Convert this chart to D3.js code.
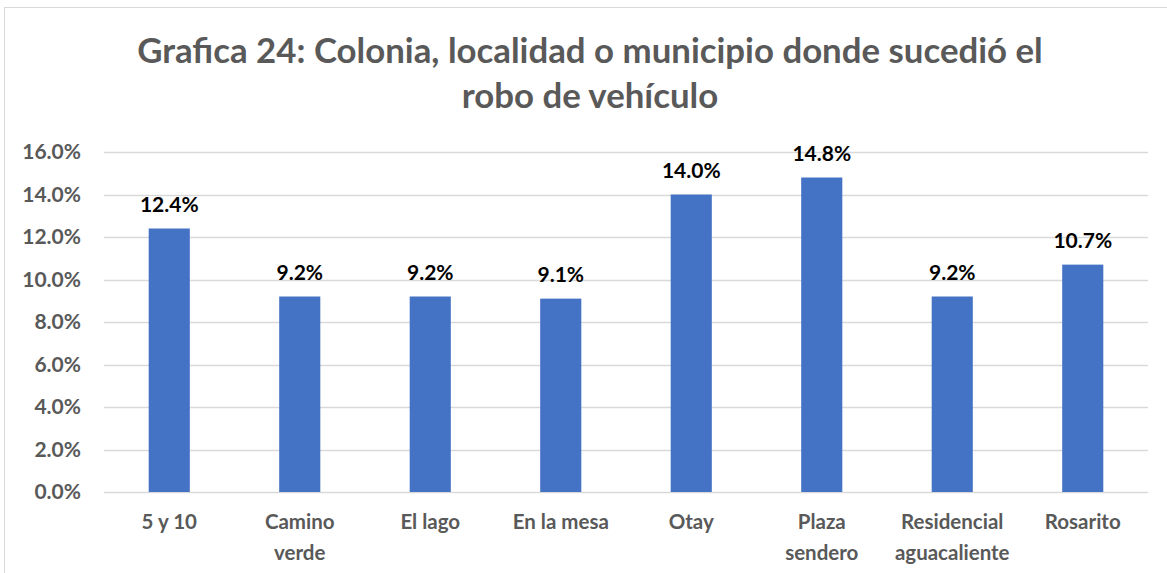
<!DOCTYPE html>
<html>
<head>
<meta charset="utf-8">
<script src="https://cdn.jsdelivr.net/npm/d3@7"></script>
<style>
  body { margin: 0; background: #fff; }
  text { font-family: Lato, "Open Sans", sans-serif; font-weight: bold; }
</style>
</head>
<body>
<div id="viz"></div>
<script>
// data
const categories = ['5 y 10', 'Camino verde', 'El lago', 'En la mesa', 'Otay', 'Plaza sendero', 'Residencial aguacaliente', 'Rosarito'];
const catLines = [['5 y 10'], ['Camino', 'verde'], ['El lago'], ['En la mesa'], ['Otay'], ['Plaza', 'sendero'], ['Residencial', 'aguacaliente'], ['Rosarito']];
const values = [12.4, 9.2, 9.2, 9.1, 14.0, 14.8, 9.2, 10.7];
const yTicks = [0, 2, 4, 6, 8, 10, 12, 14, 16];
const titleLines = ['Grafica 24: Colonia, localidad o municipio donde sucedió el', 'robo de vehículo'];

const W = 1167, H = 573;
const plot = { left: 104, right: 1148, top: 152, bottom: 492 };
const grey = '#595959';

let svg = d3.select('#viz').append('svg')
  .attr('width', W)
  .attr('height', H);

// frame
svg.append('rect')
  .attr('x', 4.5).attr('y', 7.5)
  .attr('width', W + 10).attr('height', H + 10)
  .attr('fill', 'none')
  .attr('stroke', '#d9d9d9');

let x = d3.scaleBand().domain(categories).range([plot.left, plot.right]).paddingInner(0.685).paddingOuter(0.3425);
let y = d3.scaleLinear().domain([0, 16]).range([plot.bottom, plot.top]);

// title
svg.append('g').selectAll('text')
  .data(titleLines)
  .enter().append('text')
  .attr('x', 590)
  .attr('y', (d, i) => 63 + i * 45)
  .attr('text-anchor', 'middle')
  .attr('font-size', 34.8)
  .attr('fill', grey)
  .text(d => d);

// gridlines
svg.append('g').selectAll('line')
  .data(yTicks)
  .enter().append('line')
  .attr('x1', plot.left).attr('x2', plot.right)
  .attr('y1', d => Math.round(y(d)) + 0.5)
  .attr('y2', d => Math.round(y(d)) + 0.5)
  .attr('stroke', '#d9d9d9')
  .attr('stroke-width', 1.5);

// y labels
svg.append('g').selectAll('text')
  .data(yTicks)
  .enter().append('text')
  .attr('x', 81)
  .attr('y', d => y(d) + 7)
  .attr('text-anchor', 'end')
  .attr('font-size', 21)
  .attr('fill', grey)
  .text(d => d.toFixed(1) + '%');

// bars
svg.append('g').selectAll('rect')
  .data(values)
  .enter().append('rect')
  .attr('x', (d, i) => x(categories[i]))
  .attr('y', d => y(d))
  .attr('width', x.bandwidth())
  .attr('height', d => plot.bottom - y(d))
  .attr('fill', '#4472C4');

// value labels
svg.append('g').selectAll('text')
  .data(values)
  .enter().append('text')
  .attr('x', (d, i) => x(categories[i]) + x.bandwidth() / 2)
  .attr('y', d => y(d) - 17)
  .attr('text-anchor', 'middle')
  .attr('font-size', 21)
  .attr('fill', '#000')
  .text(d => d.toFixed(1) + '%');

// category labels
let cat = svg.append('g').selectAll('text')
  .data(catLines)
  .enter().append('text')
  .attr('text-anchor', 'middle')
  .attr('font-size', 20.5)
  .attr('fill', grey);

cat.selectAll('tspan')
  .data((d, i) => d.map(t => ({ t: t, i: i })))
  .enter().append('tspan')
  .attr('x', d => x(categories[d.i]) + x.bandwidth() / 2)
  .attr('y', (d, j) => 529 + j * 31)
  .text(d => d.t);
</script>
</body>
</html>
